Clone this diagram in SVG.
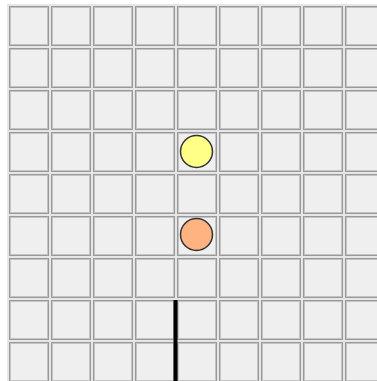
<svg xmlns="http://www.w3.org/2000/svg" width="377" height="381" viewBox="0 0 377 381">
<defs>
<style>
.cell{fill:#efefef;stroke:#999;stroke-width:1}
.inner{fill:none;stroke:#c4c4c4;stroke-width:1}
.tok{stroke:#333;stroke-width:1.5}
</style>
<pattern id="grid" x="9" y="6" width="42" height="42" patternUnits="userSpaceOnUse">
<rect class="cell" x="0.5" y="0.5" width="39" height="39"/>
<rect class="inner" x="1.5" y="1.5" width="37" height="37"/>
</pattern>
</defs>
<rect width="377" height="381" fill="#fff"/>
<g id="board">
<rect x="7" y="4" width="370" height="377" fill="#e6e6e6"/>
<rect x="7" y="4" width="370" height="377" fill="url(#grid)"/>
</g>
<g id="yellow-piece"><circle class="tok" cx="196.5" cy="151.5" r="16" fill="#ffff88"/></g>
<g id="orange-piece"><circle class="tok" cx="196.5" cy="234.5" r="16" fill="#ffb380"/></g>
<g id="connectors"><line x1="175.5" y1="300" x2="175.5" y2="381" stroke="#000" stroke-width="4"/></g>
</svg>
